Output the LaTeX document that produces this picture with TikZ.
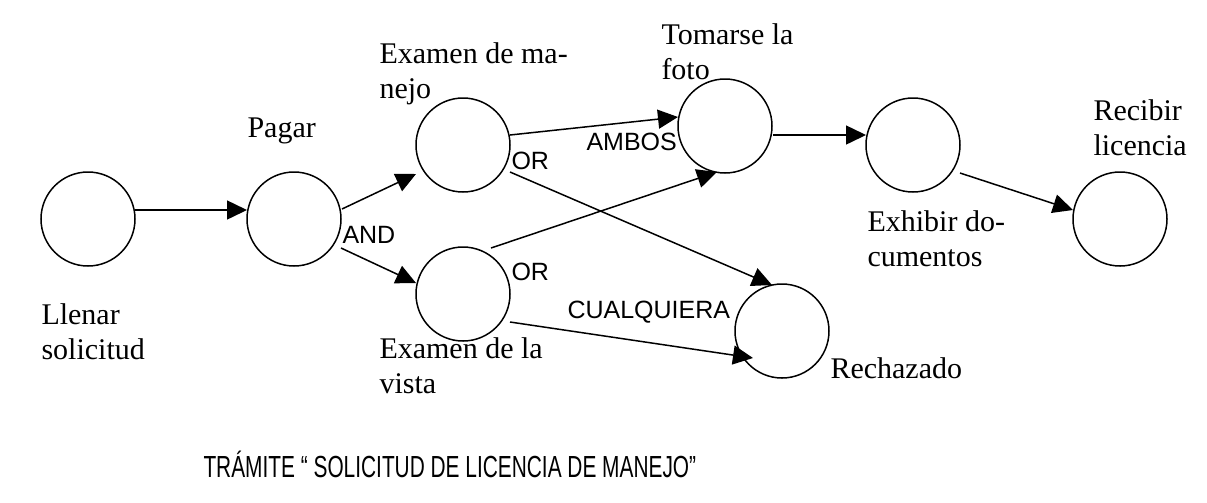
\documentclass[tikz,border=0pt]{standalone}
\usepackage{fontspec}
\setmainfont{Liberation Serif}
\newfontfamily\arialf{Liberation Sans}
\usetikzlibrary{calc,arrows.meta}
\tikzset{
  state/.style={circle,draw,line width=0.6pt,minimum size=37.6pt,inner sep=0pt},
  arr/.style={line width=0.6pt,-{Triangle[length=8pt,width=7.6pt]}},
  lbl/.style={anchor=base west,inner sep=0pt,align=left,font=\fontsize{12}{14}\selectfont},
  gate/.style={anchor=base west,inner sep=0pt,font=\arialf\fontsize{10}{12}\selectfont},
}
\begin{document}
\begin{tikzpicture}[x=0.4pt,y=-0.4pt]
\useasboundingbox (0,0) rectangle (1207,502);
% states
\node[state] (c1) at (88,219) {};
\node[state] (c2) at (294,219) {};
\node[state] (c3) at (463,145) {};
\node[state] (c4) at (463,294) {};
\node[state] (c5) at (725,126) {};
\node[state] (c6) at (782,331) {};
\node[state] (c7) at (913,145) {};
\node[state] (c8) at (1120,219) {};
% state labels (base anchor = baseline of last line)
\node[lbl] (t1) at (41,359) {Llenar\\solicitud};
\node[lbl] (t2) at (247,137) {Pagar};
\node[lbl] (t3) at (379,98) {Examen de ma-\\nejo};
\node[lbl] (t4) at (379,393) {Examen de la\\vista};
\node[lbl] (t5) at (661,79) {Tomarse la\\foto};
\node[lbl] (t6) at (830,378) {Rechazado};
\node[lbl] (t7) at (867,266) {Exhibir do-\\cumentos};
\node[lbl] (t8) at (1093,155) {Recibir\\licencia};
% gate labels
\node[gate] (g1) at (342,243) {AND};
\node[gate] (g2) at (511,169) {OR};
\node[gate] (g3) at (511,280) {OR};
\node[gate] (g4) at (586,150) {AMBOS};
\node[gate] (g5) at (567,318) {CUALQUIERA};
% connectors
\draw[arr] ($(c1)+(47,-9)$) -- ($(c2)+(-47,-9)$);
\draw[arr] ($(c2)+(48,-10)$) -- ($(c3)+(-47,29)$);
\draw[arr] ($(c2)+(47,29)$) -- ($(c4)+(-47,-11)$);
\draw[arr] ($(c3)+(47,-10)$) -- ($(c5)+(-47,-9)$);
\draw[arr] ($(c3)+(47,27)$) -- ($(c6)+(-10,-46)$);
\draw[arr] ($(c4)+(28,-46)$) -- ($(c5)+(-8,46)$);
\draw[arr] ($(c4)+(47,28)$) -- ($(c6)+(-29,27)$);
\draw[arr] ($(c5)+(48,9)$) -- ($(c7)+(-47,-10)$);
\draw[arr] ($(c7)+(47,28)$) -- ($(c8)+(-47,-9)$);
% title
\node[anchor=base west,inner sep=0pt,font=\arialf\fontsize{12.2}{14}\selectfont] (title) at (203,477)
  {\scalebox{0.684}[1]{TRÁMITE “ SOLICITUD DE LICENCIA DE MANEJO”}};
\end{tikzpicture}
\end{document}
